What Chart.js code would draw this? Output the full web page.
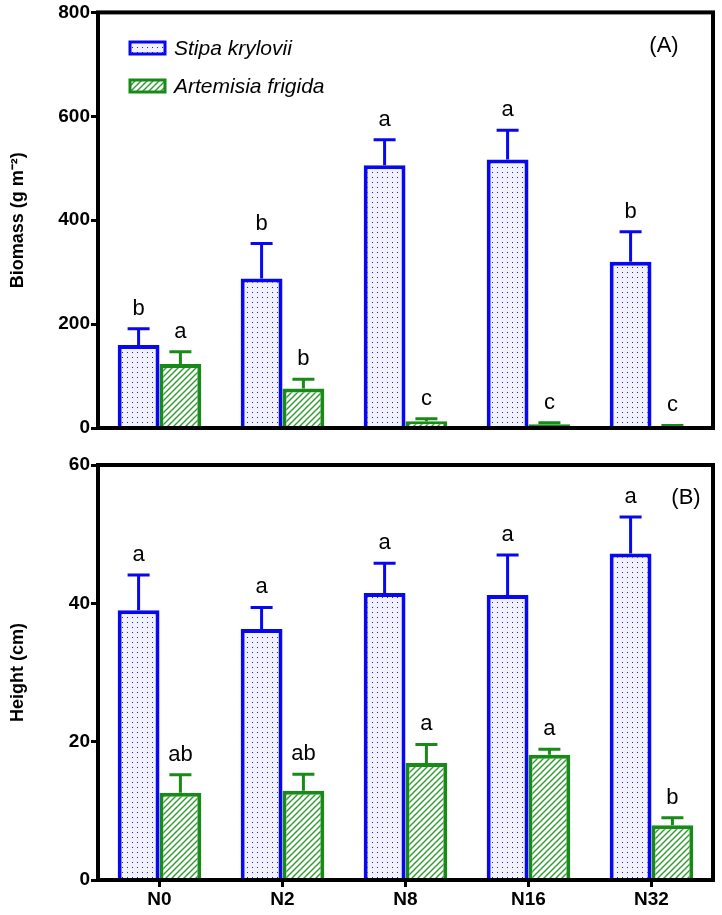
<!DOCTYPE html>
<html>
<head>
<meta charset="utf-8">
<script src="https://cdn.jsdelivr.net/npm/chart.js@4"></script>
<style>
  html, body { margin: 0; padding: 0; background: #fff; }
  #wrap { position: relative; width: 722px; height: 915px; }
  .panel { position: absolute; left: 0; }
</style>
</head>
<body>
<div id="wrap">
  <div class="panel" style="top:0"><canvas id="biomassChart" width="722" height="448"></canvas></div>
  <div class="panel" style="top:450px"><canvas id="heightChart" width="722" height="465"></canvas></div>
</div>
<script>
// data
const treatments = ['N0', 'N2', 'N8', 'N16', 'N32'];

const stipaBiomass = [160, 288, 506, 517, 320];
const stipaBiomassSE = [31, 67, 49, 56, 58];
const stipaBiomassLetters = ['b', 'b', 'a', 'a', 'b'];
const artemisiaBiomass = [123, 76, 13, 7, 3];
const artemisiaBiomassSE = [24, 18, 5, 3, 2];
const artemisiaBiomassLetters = ['a', 'b', 'c', 'c', 'c'];

const stipaHeight = [39.0, 36.3, 41.5, 41.2, 47.2];
const stipaHeightSE = [5.1, 3.1, 4.3, 5.8, 5.3];
const stipaHeightLetters = ['a', 'a', 'a', 'a', 'a'];
const artemisiaHeight = [12.6, 12.9, 16.9, 18.1, 7.9];
const artemisiaHeightSE = [2.6, 2.4, 2.7, 0.8, 1.1];
const artemisiaHeightLetters = ['ab', 'ab', 'a', 'a', 'b'];

const biomassTicks = [0, 200, 400, 600, 800];
const heightTicks = [0, 20, 40, 60];

const BLUE = '#0808f0';
const GREEN = '#178a17';
const FONT = '"Liberation Sans", Arial, sans-serif';

Chart.defaults.font.family = FONT;
Chart.defaults.color = '#000';

// fill patterns
const makeDots = () => {
    const c = document.createElement('canvas');
    c.width = 5; c.height = 5;
    const g = c.getContext('2d');
    g.fillStyle = '#f2f2fe';
    g.fillRect(0, 0, 5, 5);
    g.fillStyle = 'rgb(30,30,225)';
    g.fillRect(2, 2, 1, 1);
    return c;
};
const makeHatch = () => {
    const s = 6;
    const c = document.createElement('canvas');
    c.width = s; c.height = s;
    const g = c.getContext('2d');
    g.fillStyle = '#ffffff';
    g.fillRect(0, 0, s, s);
    g.strokeStyle = '#2f9a2f';
    g.lineWidth = 1.4;
    g.beginPath();
    g.moveTo(0, s); g.lineTo(s, 0);
    g.moveTo(-1, 1); g.lineTo(1, -1);
    g.moveTo(s - 1, s + 1); g.lineTo(s + 1, s - 1);
    g.stroke();
    return c;
};
const dotTile = makeDots();
const hatchTile = makeHatch();
const patternFor = (tile) => {
    const ctx = document.createElement('canvas').getContext('2d');
    return ctx.createPattern(tile, 'repeat');
};

// error bars, letters, frame, legend and panel tag
const decorations = {
    id: 'decorations',
    afterDatasetsDraw(chart, args, opts) {
        const ctx = chart.ctx;
        const yScale = chart.scales.y;
        chart.data.datasets.forEach((ds, i) => {
            const meta = chart.getDatasetMeta(i);
            meta.data.forEach((bar, j) => {
                const capY = yScale.getPixelForValue(ds.data[j] + ds.se[j]);
                ctx.save();
                ctx.strokeStyle = ds.borderColor;
                ctx.lineWidth = 3;
                ctx.beginPath();
                ctx.moveTo(bar.x, bar.y);
                ctx.lineTo(bar.x, capY);
                ctx.moveTo(bar.x - 11, capY);
                ctx.lineTo(bar.x + 11, capY);
                ctx.stroke();
                ctx.fillStyle = '#000';
                ctx.font = '22px ' + FONT;
                ctx.textAlign = 'center';
                ctx.textBaseline = 'alphabetic';
                ctx.fillText(ds.letters[j], bar.x, capY - 14);
                ctx.restore();
            });
        });

        const a = chart.chartArea;
        ctx.save();
        ctx.strokeStyle = '#000';
        ctx.lineWidth = 4;
        ctx.strokeRect(a.left, a.top, a.right - a.left, a.bottom - a.top);

        ctx.fillStyle = '#000';
        ctx.font = '22px ' + FONT;
        ctx.textAlign = 'center';
        ctx.textBaseline = 'middle';
        ctx.fillText(opts.tag, opts.tagX, opts.tagY);

        if (opts.legend) {
            chart.data.datasets.forEach((ds, i) => {
                const cy = 48 + i * 38;
                ctx.fillStyle = ds.backgroundColor;
                ctx.fillRect(130, cy - 6, 35, 12);
                ctx.strokeStyle = ds.borderColor;
                ctx.lineWidth = 3;
                ctx.strokeRect(130, cy - 6, 35, 12);
                ctx.fillStyle = '#000';
                ctx.font = 'italic 21px ' + FONT;
                ctx.textAlign = 'left';
                ctx.fillText(ds.label, 174, cy + 1);
            });
        }
        ctx.restore();
    }
};

const makeDatasets = (stipa, stipaSE, stipaL, art, artSE, artL) => [
    {
        label: 'Stipa krylovii',
        data: stipa, se: stipaSE, letters: stipaL,
        backgroundColor: patternFor(dotTile),
        borderColor: BLUE, borderWidth: 4
    },
    {
        label: 'Artemisia frigida',
        data: art, se: artSE, letters: artL,
        backgroundColor: patternFor(hatchTile),
        borderColor: GREEN, borderWidth: 4
    }
];

const buildChart = (id, cfg) => new Chart(document.getElementById(id), {
    type: 'bar',
    data: {
        labels: treatments,
        datasets: makeDatasets(...cfg.series)
    },
    options: {
        responsive: false,
        animation: false,
        categoryPercentage: 0.68,
        barPercentage: 1,
        layout: { padding: { top: cfg.padTop, right: 9, left: 0, bottom: 0 } },
        plugins: {
            legend: { display: false },
            tooltip: { enabled: false },
            decorations: { tag: cfg.tag, tagX: cfg.tagX, tagY: cfg.tagY, legend: cfg.legend }
        },
        scales: {
            x: {
                border: { display: false },
                grid: {
                    display: cfg.showX, drawOnChartArea: false, offset: false,
                    tickLength: 7, tickWidth: 3, tickColor: '#000'
                },
                ticks: { display: cfg.showX, padding: 1, font: { size: 19, weight: 'bold' } },
                afterFit: (s) => { s.height = cfg.xHeight; }
            },
            y: {
                min: cfg.ticks[0],
                max: cfg.ticks[cfg.ticks.length - 1],
                border: { display: false },
                grid: {
                    drawOnChartArea: false, tickLength: 7, tickWidth: 3, tickColor: '#000'
                },
                afterBuildTicks: (s) => { s.ticks = cfg.ticks.map(v => ({ value: v })); },
                ticks: { padding: 1, font: { size: 19, weight: 'bold' } },
                title: {
                    display: true, text: cfg.yTitle,
                    font: { size: 18, weight: 'bold' },
                    padding: { top: 7, bottom: 0 }
                },
                afterFit: (s) => { s.width = 98; }
            }
        }
    },
    plugins: [decorations]
});

buildChart('biomassChart', {
    series: [stipaBiomass, stipaBiomassSE, stipaBiomassLetters, artemisiaBiomass, artemisiaBiomassSE, artemisiaBiomassLetters],
    ticks: biomassTicks,
    yTitle: 'Biomass (g m\u207B\u00B2)',
    padTop: 12, xHeight: 20, showX: false,
    tag: '(A)', tagX: 664, tagY: 46, legend: true
});

buildChart('heightChart', {
    series: [stipaHeight, stipaHeightSE, stipaHeightLetters, artemisiaHeight, artemisiaHeightSE, artemisiaHeightLetters],
    ticks: heightTicks,
    yTitle: 'Height (cm)',
    padTop: 15, xHeight: 35, showX: true,
    tag: '(B)', tagX: 686, tagY: 48, legend: false
});
</script>
</body>
</html>
